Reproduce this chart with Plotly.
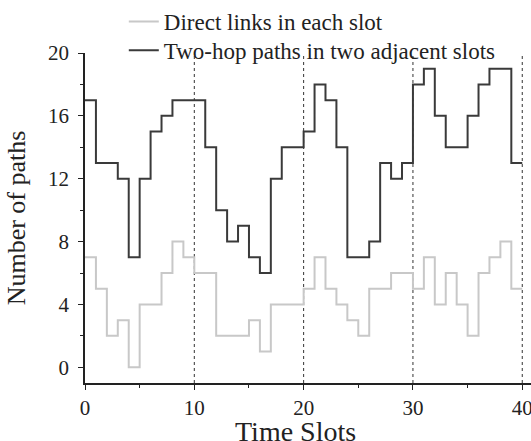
import plotly.graph_objects as go

slots = list(range(41))
direct_links = [7, 5, 2, 3, 0, 4, 4, 6, 8, 7, 6, 6, 2, 2, 2, 3, 1, 4, 4, 4,
                5, 7, 5, 4, 3, 2, 5, 5, 6, 6, 5, 7, 4, 6, 4, 2, 6, 7, 8, 5]
two_hop = [17, 13, 13, 12, 7, 12, 15, 16, 17, 17, 17, 14, 10, 8, 9, 7, 6, 12, 14, 14,
           15, 18, 17, 14, 7, 7, 8, 13, 12, 13, 18, 19, 16, 14, 14, 16, 18, 19, 19, 13]
boundary_slots = [10, 20, 30, 40]
y_ticks = [0, 4, 8, 12, 16, 20]
x_ticks = [0, 10, 20, 30, 40]

FONT = "Liberation Serif, Times New Roman, serif"
legend_font = dict(family=FONT, size=23, color="#222222")

fig = go.Figure()
fig.add_trace(go.Scatter(
    x=slots, y=direct_links + [direct_links[-1]], mode="lines", line_shape="hv",
    line=dict(color="#c8c8c8", width=2), name="Direct links in each slot",
    legend="legend"))
fig.add_trace(go.Scatter(
    x=slots, y=two_hop + [two_hop[-1]], mode="lines", line_shape="hv",
    line=dict(color="#3a3a3a", width=2), name="Two-hop paths in two adjacent slots",
    legend="legend2"))

for s in boundary_slots:
    fig.add_vline(x=s, line=dict(color="#333333", width=1, dash="dot"), layer="below")

fig.add_annotation(text="Time Slots", xref="paper", yref="paper", x=0.473, y=0,
                   xanchor="center", yanchor="top", yshift=-31, showarrow=False,
                   font=dict(family=FONT, size=28, color="#222222"))

fig.update_layout(
    width=531, height=441,
    margin=dict(l=85, r=0, t=52, b=58),
    plot_bgcolor="white", paper_bgcolor="white",
    font=dict(family=FONT, size=21, color="#222222"),
    showlegend=True,
    legend=dict(x=0.087, y=1.16, xanchor="left", yanchor="top",
                bgcolor="rgba(0,0,0,0)", font=legend_font, itemwidth=30),
    legend2=dict(x=0.087, y=1.07, xanchor="left", yanchor="top",
                 bgcolor="rgba(0,0,0,0)", font=legend_font, itemwidth=30),
    xaxis=dict(range=[0, 40.8], tickvals=x_ticks, showline=True, linecolor="#222222",
               linewidth=1.5, ticks="outside", ticklen=5, tickcolor="#222222",
               showgrid=False, zeroline=False, ticklabeloverflow="allow",
               automargin=False,
               minor=dict(dtick=5, ticks="outside", ticklen=3, tickcolor="#222222"),
               tickfont=dict(size=21)),
    yaxis=dict(range=[-1, 20], tickvals=y_ticks, showline=True, linecolor="#222222",
               linewidth=1.5, ticks="outside", ticklen=5, tickcolor="#222222",
               showgrid=False, zeroline=False, ticklabelstandoff=5,
               automargin=False,
               minor=dict(dtick=2, ticks="outside", ticklen=3, tickcolor="#222222"),
               title=dict(text="Number of paths", font=dict(size=26)),
               tickfont=dict(size=21)),
)

fig.write_html("out.html")
